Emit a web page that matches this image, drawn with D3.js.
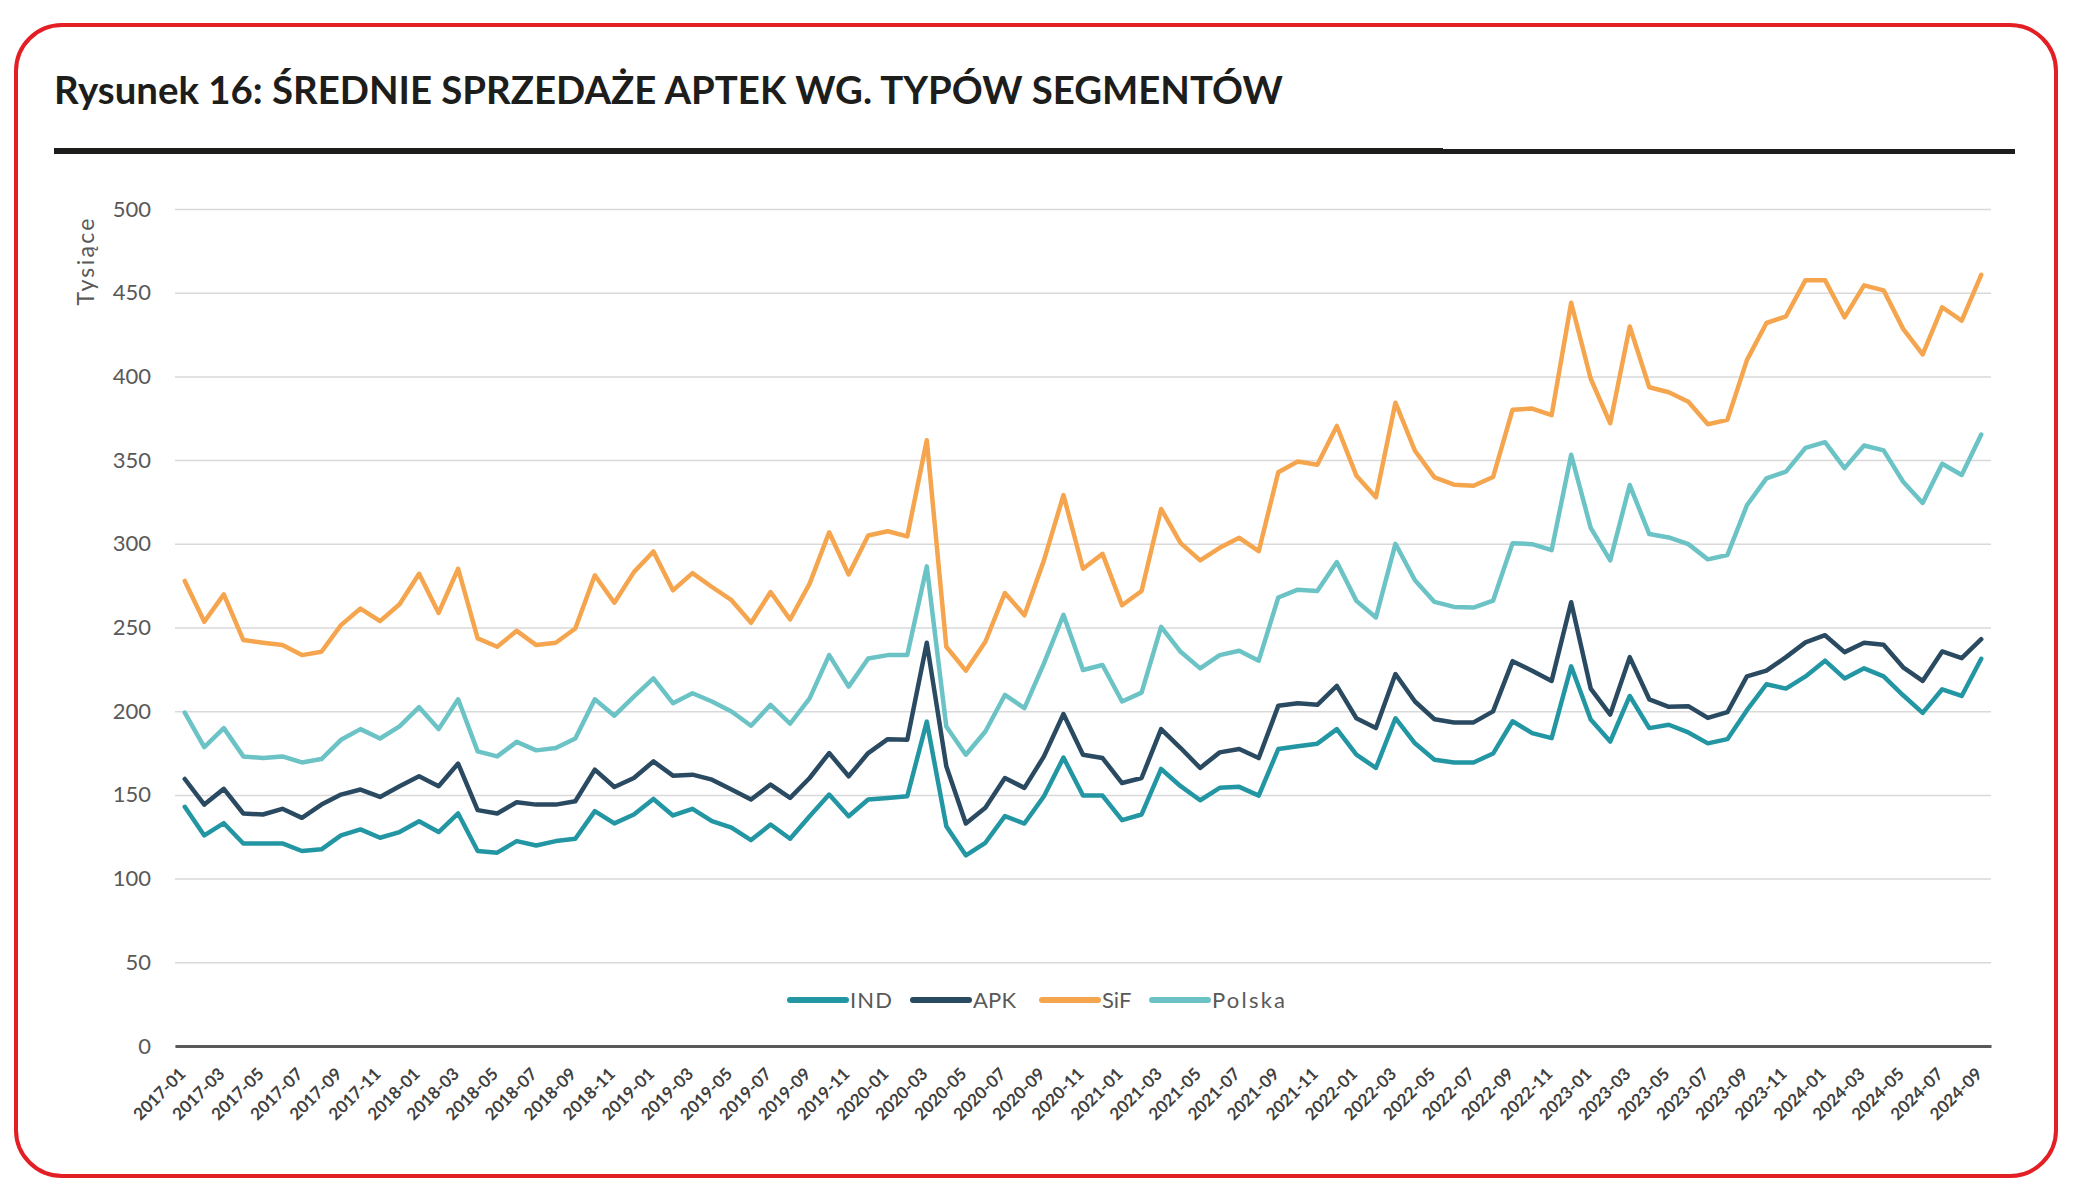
<!DOCTYPE html>
<html><head><meta charset="utf-8">
<script src="https://cdn.jsdelivr.net/npm/d3@7"></script>
<style>html,body{margin:0;padding:0;background:#fff;} svg{display:block}</style>
</head><body>
<svg id="chart" width="2077" height="1202"></svg>
<script>
const months = [
"2017-01","2017-02","2017-03","2017-04","2017-05","2017-06","2017-07","2017-08","2017-09","2017-10","2017-11","2017-12",
"2018-01","2018-02","2018-03","2018-04","2018-05","2018-06","2018-07","2018-08","2018-09","2018-10","2018-11","2018-12",
"2019-01","2019-02","2019-03","2019-04","2019-05","2019-06","2019-07","2019-08","2019-09","2019-10","2019-11","2019-12",
"2020-01","2020-02","2020-03","2020-04","2020-05","2020-06","2020-07","2020-08","2020-09","2020-10","2020-11","2020-12",
"2021-01","2021-02","2021-03","2021-04","2021-05","2021-06","2021-07","2021-08","2021-09","2021-10","2021-11","2021-12",
"2022-01","2022-02","2022-03","2022-04","2022-05","2022-06","2022-07","2022-08","2022-09","2022-10","2022-11","2022-12",
"2023-01","2023-02","2023-03","2023-04","2023-05","2023-06","2023-07","2023-08","2023-09","2023-10","2023-11","2023-12",
"2024-01","2024-02","2024-03","2024-04","2024-05","2024-06","2024-07","2024-08","2024-09"];

const IND = [142.9,125.8,133.1,121.0,121.0,121.0,116.5,117.5,125.8,129.4,124.4,127.8,
134.3,127.8,138.9,116.5,115.5,122.4,119.8,122.4,123.8,140.3,133.0,138.3,
147.6,137.7,141.7,134.3,130.4,123.0,132.3,123.8,137.3,150.2,137.3,147.2,
148.2,149.2,193.8,131.3,113.9,121.4,137.3,132.9,149.2,172.3,149.6,149.6,
134.9,138.3,165.5,155.2,146.8,154.2,154.8,149.6,177.4,179.0,180.6,189.3,
174.0,166.1,195.8,180.8,171.0,169.4,169.4,174.7,194.0,186.9,183.9,226.8,
195.0,181.9,209.1,189.9,191.9,187.3,180.8,183.3,200.6,216.1,213.5,220.8,
230.2,219.6,225.6,220.8,209.5,199.0,213.1,209.1,231.3];

const APK = [159.5,144.2,153.6,138.9,138.3,141.7,136.3,144.2,150.2,153.2,148.8,155.2,
161.1,155.2,168.7,140.9,138.9,145.6,144.2,144.2,146.2,165.1,154.7,160.1,
170.0,161.5,162.1,159.1,153.2,147.2,156.2,148.2,160.1,175.0,161.1,175.0,
183.3,182.9,240.9,167.1,132.9,142.3,160.1,154.2,173.0,198.3,174.0,172.0,
157.1,160.1,189.3,178.0,166.1,175.4,177.4,172.0,203.2,204.8,203.8,215.1,
195.8,189.9,222.2,205.8,195.2,193.3,193.3,199.9,229.9,224.2,218.1,265.1,
213.5,198.0,232.3,207.1,202.6,203.0,196.0,199.4,220.8,224.2,232.3,241.1,
245.4,235.3,240.9,239.7,226.2,218.1,235.7,231.7,243.0];

const SiF = [277.8,253.4,269.8,242.5,240.9,239.5,233.5,235.5,251.4,261.3,253.8,263.9,
282.1,258.7,285.1,243.5,238.5,248.0,239.5,240.9,249.4,281.2,264.8,283.1,
295.4,272.2,282.5,274.2,266.3,252.8,271.2,254.8,276.2,306.9,281.7,305.0,
307.5,304.4,361.9,238.5,224.2,241.5,270.6,257.3,290.1,329.1,285.1,294.0,
263.3,271.8,320.8,300.4,290.1,297.6,303.6,295.6,342.7,349.2,347.2,370.4,
340.7,327.8,384.3,355.6,339.7,335.3,334.7,339.9,380.1,380.8,376.8,444.0,
398.6,372.0,429.8,393.5,390.5,384.9,371.4,374.0,409.7,431.9,435.9,457.5,
457.5,435.3,454.4,451.4,428.4,413.1,441.3,433.3,460.7];

const Polska = [199.2,178.6,189.9,173.0,172.0,173.0,169.4,171.4,182.9,189.3,183.7,190.9,
202.4,189.3,207.1,176.0,173.0,181.7,176.6,178.0,183.7,207.1,197.3,208.7,
219.6,204.8,210.7,205.8,199.8,191.3,203.8,192.5,207.7,233.5,214.7,231.5,
233.5,233.5,286.5,190.9,174.0,187.9,209.7,201.8,228.6,257.6,224.6,227.6,
205.8,211.1,250.4,235.5,225.6,233.5,236.1,230.2,267.9,272.6,271.8,289.1,
265.9,256.0,300.0,278.2,265.3,262.3,261.9,266.0,300.4,299.8,296.2,353.2,
309.5,290.1,335.1,305.8,303.8,299.8,290.7,293.3,323.0,339.1,343.1,357.3,
360.7,345.2,358.7,355.8,337.1,324.4,347.8,341.1,365.3];

const yTicks = [0,50,100,150,200,250,300,350,400,450,500];
const xTickLabels = months.filter((d,i)=>i%2===0);
const seriesNames = ["IND","APK","SiF","Polska"];
const seriesValues = [IND, APK, SiF, Polska];
const colors = ["#2396a3","#2a4a61","#f5a54e","#6cc3c6"];
const title = "Rysunek 16: ŚREDNIE SPRZEDAŻE APTEK WG. TYPÓW SEGMENTÓW";
const yAxisTitle = "Tysiące";

// layout constants (pixels)
const legX = [790, 913, 1042, 1152];
const legTextW = [42, 43, null, 73];

const svg = d3.select("#chart");
const font = "Lato, 'Open Sans', sans-serif";

// frame
svg.append("rect").attr("x",16).attr("y",25).attr("width",2040).attr("height",1151)
  .attr("rx",46).attr("ry",46).attr("fill","#fff").attr("stroke","#e31e25").attr("stroke-width",4);

// title
const t = svg.append("text").attr("x",54).attr("y",104).text(title)
  .attr("font-family","Lato, sans-serif").attr("font-weight",700).attr("font-size",35).attr("fill","#1d1d1b");
const tw = t.node().getComputedTextLength();
t.attr("font-size", 35*1229/tw);

svg.append("rect").attr("x",54).attr("y",148).attr("width",1443-54).attr("height",6).attr("fill","#1d1d1b");
svg.append("rect").attr("x",1443).attr("y",149).attr("width",2015-1443).attr("height",5).attr("fill","#1d1d1b");

const x = d3.scaleBand().domain(months).range([175,1991]);
const y = d3.scaleLinear().domain([0,500]).range([1046,209]);
const cx = d => x(d) + x.bandwidth()/2;

// y axis with gridlines
const ya = svg.append("g").attr("transform","translate(175,0)")
  .call(d3.axisLeft(y).tickValues(yTicks).tickSize(-(1991-175)).tickPadding(24));
ya.select(".domain").remove();
ya.selectAll(".tick line").attr("stroke","#d9d9d9").attr("stroke-width",1.5);
ya.selectAll(".tick text").attr("font-family",font).attr("font-size",22).attr("fill","#595959");

svg.append("text").attr("transform","translate(94,262) rotate(-90)").attr("text-anchor","middle")
  .attr("font-family",font).attr("font-size",23).attr("fill","#595959")
  .attr("textLength",87).attr("lengthAdjust","spacing").text(yAxisTitle);

// series
const line = d3.line().x((d,i)=>cx(months[i])).y(d=>y(d));
seriesValues.forEach((vals,k)=>{
  svg.append("path").datum(vals).attr("d",line).attr("fill","none")
    .attr("stroke",colors[k]).attr("stroke-width",4.5).attr("stroke-linejoin","round").attr("stroke-linecap","round");
});

// x axis
const xa = svg.append("g").attr("transform","translate(0,1046)")
  .call(d3.axisBottom(x).tickValues(xTickLabels).tickSize(0));
xa.select(".domain").attr("stroke","#595959").attr("stroke-width",3);
xa.selectAll(".tick text").attr("x",0).attr("y",0).attr("dy",0)
  .attr("transform","translate(2,29) rotate(-45)").attr("text-anchor","end")
  .attr("font-family",font).attr("font-weight",700).attr("font-size",17).attr("fill","#404040");

// legend
const lg = svg.append("g");
seriesNames.forEach((n,k)=>{
  lg.append("line").attr("x1",legX[k]).attr("x2",legX[k]+56).attr("y1",1000).attr("y2",1000)
    .attr("stroke",colors[k]).attr("stroke-width",6).attr("stroke-linecap","round");
  const tx = lg.append("text").attr("x",legX[k]+60).attr("y",1000).attr("dy","0.35em")
    .attr("font-family",font).attr("font-size",22).attr("fill","#595959").text(n);
  if (legTextW[k]) tx.attr("textLength",legTextW[k]).attr("lengthAdjust","spacing");
});
</script>
</body></html>
